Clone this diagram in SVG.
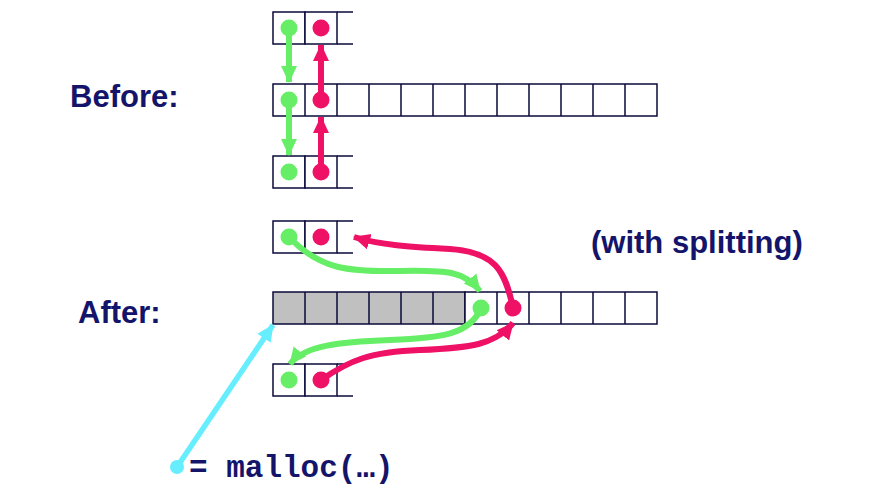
<svg xmlns="http://www.w3.org/2000/svg" width="877" height="493" viewBox="0 0 877 493">
<style>
.cell{fill:#fff;stroke:#0a0a3a;stroke-width:1.5}
.gray{fill:#c0c0c0;stroke:#0a0a3a;stroke-width:1.5}
.ln{stroke:#0a0a3a;stroke-width:1.5;fill:none}
.lbl{font-family:"Liberation Sans",Arial,sans-serif;font-weight:bold;font-size:31px;fill:#14146b}
.code{font-family:"Liberation Mono","Courier New",monospace;font-weight:bold;font-size:31px;fill:#14146b}
.g{fill:#66ee66}
.r{fill:#ee1166}
.gs{stroke:#66ee66;stroke-width:6;fill:none}
.rs{stroke:#ee1166;stroke-width:6;fill:none}
.cs{stroke:#66eeff;stroke-width:5.5;fill:none}
</style>
<defs>
<marker id="ag" markerUnits="userSpaceOnUse" markerWidth="18" markerHeight="18" refX="16" refY="8" orient="auto" viewBox="0 0 18 16"><path d="M0,0 L17,8 L0,16 Z" fill="#66ee66"/></marker>
<marker id="ar" markerUnits="userSpaceOnUse" markerWidth="18" markerHeight="18" refX="16" refY="8" orient="auto" viewBox="0 0 18 16"><path d="M0,0 L17,8 L0,16 Z" fill="#ee1166"/></marker>
<marker id="ac" markerUnits="userSpaceOnUse" markerWidth="18" markerHeight="18" refX="16" refY="8" orient="auto" viewBox="0 0 18 16"><path d="M0,0 L17,8 L0,16 Z" fill="#66eeff"/></marker>
</defs>

<text class="lbl" x="70" y="107">Before:</text>
<text class="lbl" x="78" y="323">After:</text>
<text class="lbl" x="591" y="253">(with splitting)</text>

<g id="before-top">
<rect class="cell" x="273" y="12" width="32" height="32"/>
<rect class="cell" x="305" y="12" width="32" height="32"/>
<path class="ln" d="M337,12 H353 M337,44 H353"/>
<circle class="g" cx="289" cy="28" r="8.5"/>
<circle class="r" cx="321" cy="28" r="8.5"/>
</g>
<g id="before-list">
<rect class="cell" x="273" y="84" width="384" height="32"/>
<path class="ln" d="M305,84V116 M337,84V116 M369,84V116 M401,84V116 M433,84V116 M465,84V116 M497,84V116 M529,84V116 M561,84V116 M593,84V116 M625,84V116"/>
<circle class="g" cx="289" cy="100" r="8.5"/>
<circle class="r" cx="321" cy="100" r="8.5"/>
</g>
<g id="before-bottom">
<rect class="cell" x="273" y="156" width="32" height="32"/>
<rect class="cell" x="305" y="156" width="32" height="32"/>
<path class="ln" d="M337,156 H353 M337,188 H353"/>
<circle class="g" cx="289" cy="172" r="8.5"/>
<circle class="r" cx="321" cy="172" r="8.5"/>
</g>

<g id="after-top">
<rect class="cell" x="273" y="221" width="32" height="32"/>
<rect class="cell" x="305" y="221" width="32" height="32"/>
<path class="ln" d="M337,221 H353 M337,253 H353"/>
<circle class="g" cx="289" cy="237" r="8.5"/>
<circle class="r" cx="321" cy="237" r="8.5"/>
</g>
<g id="after-list">
<rect class="gray" x="273" y="292" width="192" height="32"/>
<rect class="cell" x="465" y="292" width="192" height="32"/>
<path class="ln" d="M305,292V324 M337,292V324 M369,292V324 M401,292V324 M433,292V324 M497,292V324 M529,292V324 M561,292V324 M593,292V324 M625,292V324"/>
<circle class="g" cx="481" cy="308" r="8.5"/>
<circle class="r" cx="513" cy="308" r="8.5"/>
</g>
<g id="after-bottom">
<rect class="cell" x="273" y="364" width="32" height="32"/>
<rect class="cell" x="305" y="364" width="32" height="32"/>
<path class="ln" d="M337,364 H353 M337,396 H353"/>
<circle class="g" cx="289" cy="380" r="8.5"/>
<circle class="r" cx="321" cy="380" r="8.5"/>
</g>

<g id="connectors">
<path class="gs" d="M289,28 V82" marker-end="url(#ag)"/>
<path class="gs" d="M289,100 V155" marker-end="url(#ag)"/>
<path class="rs" d="M321,100 V45" marker-end="url(#ar)"/>
<path class="rs" d="M321,172 V117" marker-end="url(#ar)"/>
<path class="gs" d="M289,237 C320,270 350,272 400,271 C450,270 465,272 480,291" marker-end="url(#ag)"/>
<path class="rs" d="M513,308 C505,270 495,252 450,249 C410,247 380,245 354,237" marker-end="url(#ar)"/>
<path class="gs" d="M481,308 C470,335 440,338 390,340 C340,342 305,345 290,364" marker-end="url(#ag)"/>
<path class="rs" d="M321,380 C350,360 370,352 420,350 C470,348 495,345 513,323" marker-end="url(#ar)"/>
<path class="cs" d="M177,467 L273,325" marker-end="url(#ac)"/>
<circle cx="177" cy="467" r="7" fill="#66eeff"/>
</g>

<text class="code" x="189" y="477">= malloc(…)</text>
</svg>
